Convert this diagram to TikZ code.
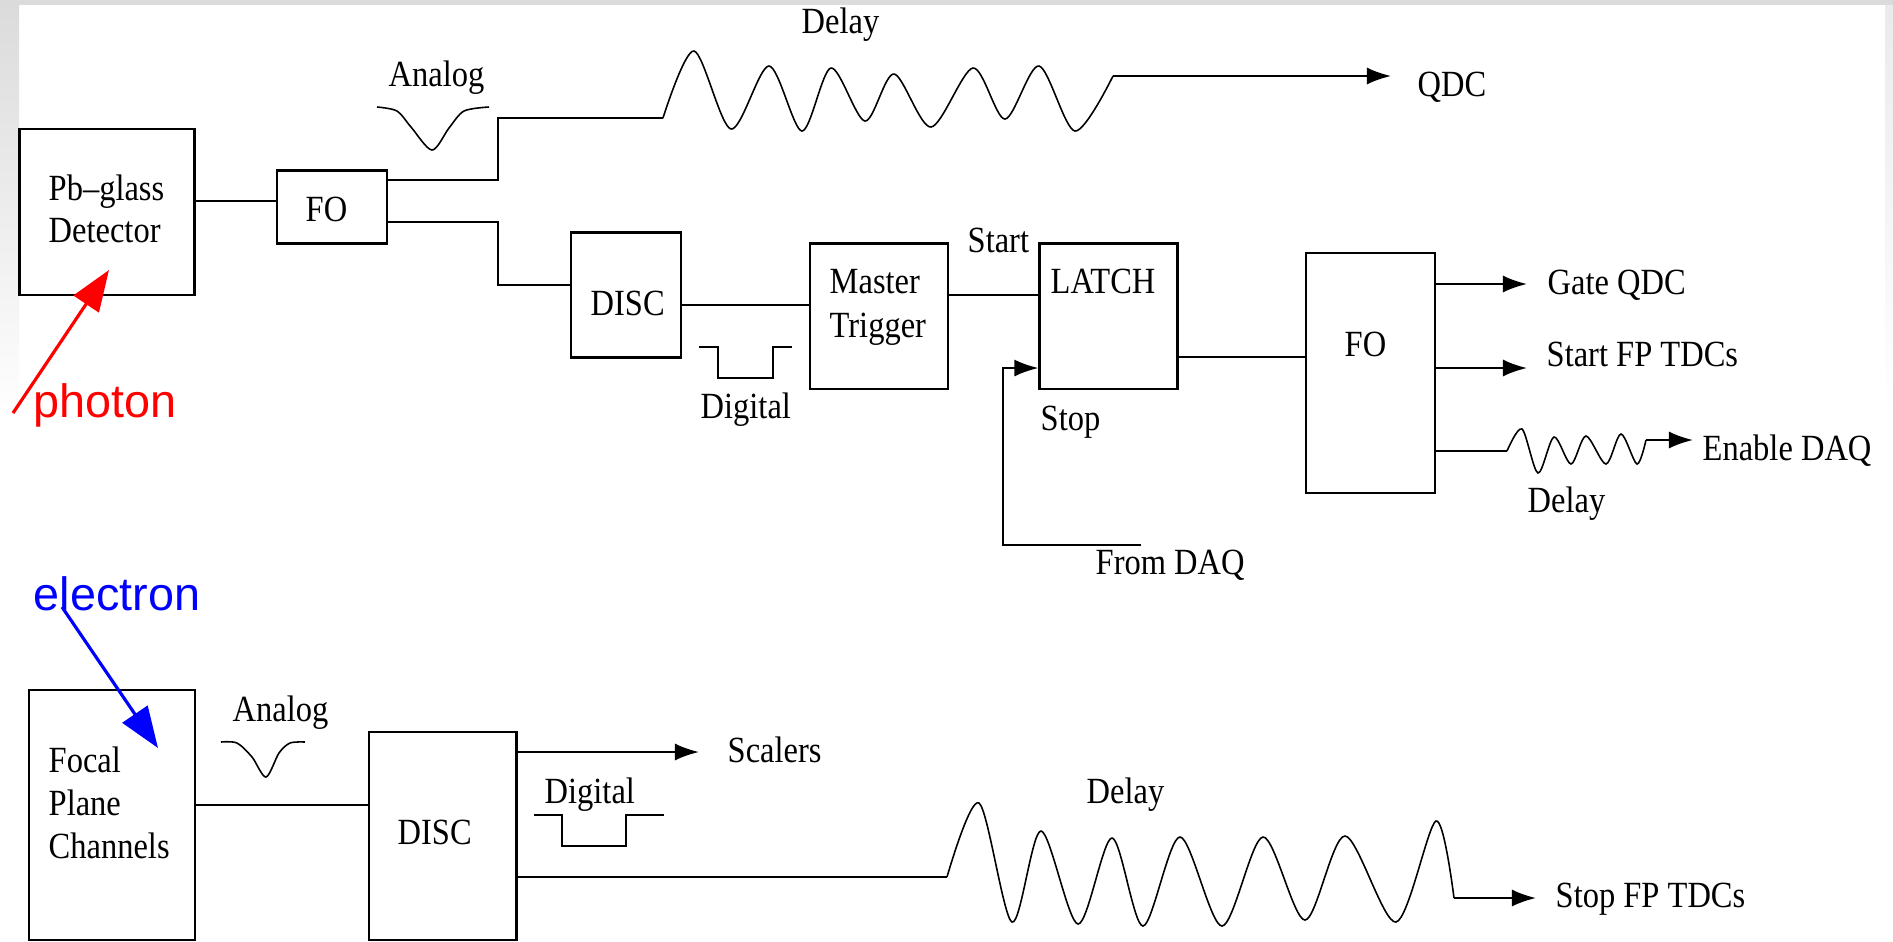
\documentclass[tikz,border=0pt]{standalone}
\usepackage{fontspec}
\setmainfont[FakeStretch=0.88]{Liberation Serif}
\newfontfamily\labelfont{Liberation Sans}
\usetikzlibrary{arrows.meta}
\def\dsig{\draw[sig]}
\def\dout{\draw[sig,-{Latex[length=0.24cm,width=0.17cm]}]}
\def\dwave{\draw[wave] plot[smooth,tension=0.5] coordinates}
\tikzset{
  sig/.style={line width=0.6pt,black},
  wave/.style={line width=0.45pt,black},
  blk/.style={draw,line width=0.6pt,inner sep=0pt},
  txt/.style={anchor=base west,inner sep=0pt,font=\fontsize{10.5pt}{12pt}\selectfont},
  tag/.style={anchor=base west,inner sep=0pt,font=\labelfont\fontsize{13.3pt}{15pt}\selectfont},
  beam/.style={line width=0.9pt,-{Triangle[length=0.41cm,width=0.3cm]}},
}
\begin{document}
\begin{tikzpicture}[x=0.01cm,y=-0.01cm]
  \useasboundingbox (0,0) rectangle (1893,941);
  % window edge
  \fill[white] (0,0) rectangle (1893,941);
  \shade[top color=black!14,bottom color=white] (0,5) rectangle (19,421);
  \shade[top color=black!8,bottom color=white] (1885,5) rectangle (1893,413);
  \fill[black!14] (0,0) rectangle (1893,5);

  % boxes
  \node[blk,minimum width=1.75cm,minimum height=1.667cm] (pbglass) at (107,212) {};
  \node[blk,minimum width=1.105cm,minimum height=0.73cm] (foa) at (332,207) {};
  \node[blk,minimum width=1.107cm,minimum height=1.25cm] (disca) at (626,295) {};
  \node[blk,minimum width=1.38cm,minimum height=1.45cm] (trigger) at (879,316) {};
  \node[blk,minimum width=1.38cm,minimum height=1.45cm] (latch) at (1108.5,316) {};
  \node[blk,minimum width=1.288cm,minimum height=2.397cm] (fob) at (1370.5,373) {};
  \node[blk,minimum width=1.656cm,minimum height=2.5cm] (focal) at (111.8,815) {};
  \node[blk,minimum width=1.475cm,minimum height=2.083cm] (discb) at (442.7,836) {};

  % box texts
  \node[txt] (pbtext) at (48,200) {Pb--glass};
  \node[txt] (dettext) at (48,242) {Detector};
  \node[txt] (foatext) at (305,221) {FO};
  \node[txt] (discatext) at (590,315) {DISC};
  \node[txt] (mastertext) at (829,293) {Master};
  \node[txt] (trigtext) at (829,337) {Trigger};
  \node[txt] (latchtext) at (1050,293) {LATCH};
  \node[txt] (fobtext) at (1344,356) {FO};
  \node[txt] (focaltext) at (48,772) {Focal};
  \node[txt] (planetext) at (48,815) {Plane};
  \node[txt] (chantext) at (48,858) {Channels};
  \node[txt] (discbtext) at (397,844) {DISC};

  % other labels
  \node[txt] (analoga) at (388,86) {Analog};
  \node[txt] (delaya) at (801,33) {Delay};
  \node[txt] (qdc) at (1417,96) {QDC};
  \node[txt] (start) at (967,252) {Start};
  \node[txt] (stop) at (1040,430) {Stop};
  \node[txt] (digitala) at (700,418) {Digital};
  \node[txt] (fromdaq) at (1095,574) {From DAQ};
  \node[txt] (gateqdc) at (1547,294) {Gate QDC};
  \node[txt] (startfp) at (1546,366) {Start FP TDCs};
  \node[txt] (enabledaq) at (1702,460) {Enable DAQ};
  \node[txt] (delayb) at (1527,512) {Delay};
  \node[txt] (analogb) at (232,721) {Analog};
  \node[txt] (scalers) at (727,762) {Scalers};
  \node[txt] (digitalb) at (544,803) {Digital};
  \node[txt] (delayc) at (1086,803) {Delay};
  \node[txt] (stopfp) at (1555,907) {Stop FP TDCs};

  % wave ends and arrow tips
  \coordinate (wa) at (663,118);
  \coordinate (wb) at (1113,76);
  \coordinate (wc) at (1507,451);
  \coordinate (wd) at (1646,440);
  \coordinate (we) at (947,877);
  \coordinate (wf) at (1454,898);
  \coordinate (daqend) at (1141,545);
  \coordinate (photonstart) at (13,413);
  \coordinate (photontip) at (109,270);
  \coordinate (electronstart) at (62,607);
  \coordinate (electrontip) at (158,748);

  % top chain
  \dsig (pbglass.east |- 0,201) -- (foa.west |- 0,201);
  \dsig (foa.east |- 0,180) -- (498,180) -- (498,118) -- (wa);
  \dsig (foa.east |- 0,222) -- (498,222) -- (498,285) -- (disca.west |- 0,285);
  \dsig (disca.east |- 0,305) -- (trigger.west |- 0,305);
  \dsig (trigger.east |- 0,295) -- (latch.west |- 0,295);
  \dsig (latch.east |- 0,357) -- (fob.west |- 0,357);
  \dwave {(wa) (694,51) (731,129) (769,66) (802,131) (831,68) (865,121) (894,74) (931,127) (973,68) (1005,119) (1039,66) (1075,131) (wb)};
  \dout (wb) -- (1391,76);
  \dout (daqend) -- (1003,545) -- (1003,368) -- (latch.west |- 0,368);
  \dout (fob.east |- 0,284) -- (1527,284);
  \dout (fob.east |- 0,368) -- (1527,368);
  \dsig (fob.east |- 0,451) -- (wc);
  \dwave {(wc) (1522,429) (1538,473) (1554,437) (1571,464) (1586,436) (1606,464) (1621,434) (1637,464) (wd)};
  \dout (wd) -- (1693,440);

  % bottom chain
  \dsig (focal.east |- 0,805) -- (discb.west |- 0,805);
  \dout (discb.east |- 0,752) -- (699,752);
  \dsig (discb.east |- 0,877) -- (we);
  \dwave {(we) (979,803) (1012,922) (1041,831) (1078,924) (1112,838) (1143,926) (1180,837) (1222,926) (1263,837) (1305,920) (1345,836) (1396,922) (1436,821) (wf)};
  \dout (wf) -- (1536,898);

  % pulse shapes
  \dwave {(377,107) (397,111) (411,127) (432,150) (449,128) (464,111) (489,107)};
  \dwave {(221,742) (237,743) (252,757) (266,777) (279,753) (290,743) (305,742)};
  \dsig (699,347) -- (718,347) -- (718,378) -- (773,378) -- (773,347) -- (792,347);
  \dsig (534,815) -- (562,815) -- (562,846) -- (626,846) -- (626,815) -- (664,815);

  % particles
  \node[tag,red] (photon) at (33,417) {photon};
  \node[tag,blue] (electron) at (33,610) {electron};
  \draw[beam,red] (photonstart) -- (photontip);
  \draw[beam,blue] (electronstart) -- (electrontip);
\end{tikzpicture}
\end{document}
